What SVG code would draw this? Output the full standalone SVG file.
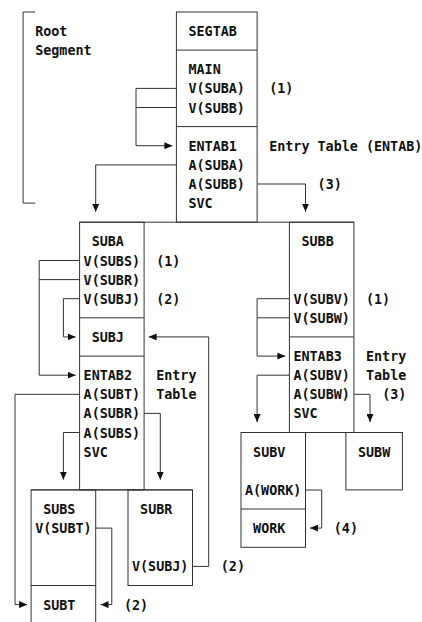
<svg xmlns="http://www.w3.org/2000/svg" width="422" height="622" viewBox="0 0 422 622">
<style>
text{font-family:"DejaVu Sans Mono","Liberation Mono",monospace;font-weight:bold;font-size:13.4px;fill:#111}
.b{fill:none;stroke:#333;stroke-width:1}
.c{fill:none;stroke:#333;stroke-width:1}
</style>
<defs>
<marker id="ah" viewBox="0 0 8 7" markerWidth="8" markerHeight="7" refX="8" refY="3.5" orient="auto" markerUnits="userSpaceOnUse">
<path d="M0,0 L8,3.5 L0,7 z" fill="#111"/>
</marker>
</defs>
<rect width="422" height="622" fill="#fff"/>

<g id="root-segment">
<path class="b" d="M35.2,12 H23.1 V203.1 H35.2"/>
<text x="35.2" y="36">Root</text>
<text x="35.2" y="55.1">Segment</text>
</g>

<g id="segtab">
<rect class="b" x="176.4" y="12" width="80.7" height="210.2"/>
<line class="b" x1="176.4" y1="50.1" x2="257.1" y2="50.1"/>
<line class="b" x1="176.4" y1="126.6" x2="257.1" y2="126.6"/>
<text x="188.5" y="36">SEGTAB</text>
<text x="188.5" y="74.3">MAIN</text>
<text x="188.5" y="93.4">V(SUBA)</text>
<text x="188.5" y="112.5">V(SUBB)</text>
<text x="269.2" y="93.4">(1)</text>
<text x="188.5" y="150.7">ENTAB1</text>
<text x="188.5" y="169.9">A(SUBA)</text>
<text x="188.5" y="189">A(SUBB)</text>
<text x="188.5" y="208.1">SVC</text>
<text x="269.2" y="150.7">Entry Table (ENTAB)</text>
<text x="317.6" y="189">(3)</text>
</g>

<g id="tree-lines">
<line class="b" x1="79.6" y1="222.2" x2="353.9" y2="222.2"/>
<line class="b" x1="241" y1="432.5" x2="402.4" y2="432.5"/>
<line class="b" x1="31.1" y1="489.9" x2="192.5" y2="489.9"/>
</g>

<g id="suba">
<rect class="b" x="79.6" y="222.2" width="64.5" height="267.7"/>
<line class="b" x1="79.6" y1="317.8" x2="144.1" y2="317.8"/>
<line class="b" x1="79.6" y1="356.1" x2="144.1" y2="356.1"/>
<text x="91.7" y="246.3">SUBA</text>
<text x="83.6" y="265.5">V(SUBS)</text>
<text x="83.6" y="284.6">V(SUBR)</text>
<text x="83.6" y="303.7">V(SUBJ)</text>
<text x="156.2" y="265.5">(1)</text>
<text x="156.2" y="303.7">(2)</text>
</g>

<g id="subj">
<text x="91.7" y="341.9">SUBJ</text>
</g>

<g id="entab2">
<text x="83.6" y="380.2">ENTAB2</text>
<text x="83.6" y="399.3">A(SUBT)</text>
<text x="83.6" y="418.4">A(SUBR)</text>
<text x="83.6" y="437.5">A(SUBS)</text>
<text x="83.6" y="456.7">SVC</text>
<text x="156.2" y="380.2">Entry</text>
<text x="156.2" y="399.3">Table</text>
</g>

<g id="subb">
<rect class="b" x="289.4" y="222.2" width="64.5" height="210.3"/>
<line class="b" x1="289.4" y1="336.9" x2="353.9" y2="336.9"/>
<text x="301.5" y="246.3">SUBB</text>
<text x="293.4" y="303.7">V(SUBV)</text>
<text x="293.4" y="322.8">V(SUBW)</text>
<text x="366" y="303.7">(1)</text>
</g>

<g id="entab3">
<text x="293.4" y="361.1">ENTAB3</text>
<text x="293.4" y="380.2">A(SUBV)</text>
<text x="293.4" y="399.3">A(SUBW)</text>
<text x="293.4" y="418.4">SVC</text>
<text x="366" y="361.1">Entry</text>
<text x="366" y="380.2">Table</text>
<text x="382.2" y="399.3">(3)</text>
</g>

<g id="subs">
<rect class="b" x="31.1" y="489.9" width="64.6" height="95.6"/>
<text x="43.2" y="514">SUBS</text>
<text x="35.2" y="533.1">V(SUBT)</text>
</g>

<g id="subt">
<path class="b" d="M31.1,623 V585.5 H95.7 V623"/>
<text x="43.2" y="609.6">SUBT</text>
<text x="124" y="609.6">(2)</text>
</g>

<g id="subr">
<rect class="b" x="128" y="489.9" width="64.5" height="95.6"/>
<text x="140.1" y="514">SUBR</text>
<text x="132" y="571.4">V(SUBJ)</text>
<text x="220.8" y="571.4">(2)</text>
</g>

<g id="subv">
<rect class="b" x="241" y="432.5" width="64.5" height="114.8"/>
<line class="b" x1="241" y1="509" x2="305.5" y2="509"/>
<text x="253.1" y="456.7">SUBV</text>
<text x="245" y="494.9">A(WORK)</text>
</g>

<g id="work">
<text x="253.1" y="533.1">WORK</text>
<text x="333.8" y="533.1">(4)</text>
</g>

<g id="subw">
<rect class="b" x="345.9" y="432.5" width="56.5" height="57.4"/>
<text x="358" y="456.7">SUBW</text>
</g>

<g id="connectors">
<path class="c" d="M176.4,88.4 H136 V145.7 H172.4" marker-end="url(#ah)"/>
<path class="c" d="M176.4,107.5 H136"/>
<path class="c" d="M176.4,164.9 H95.7 V211.7" marker-end="url(#ah)"/>
<path class="c" d="M257.1,184 H305.5 V211.7" marker-end="url(#ah)"/>
<path class="c" d="M79.6,260.5 H39.2 V375.2 H75.6" marker-end="url(#ah)"/>
<path class="c" d="M79.6,279.6 H39.2"/>
<path class="c" d="M79.6,298.7 H63.4 V336.9 H75.6" marker-end="url(#ah)"/>
<path class="c" d="M192.5,566.4 H208.7 V336.9 H148.6" marker-end="url(#ah)"/>
<path class="c" d="M79.6,394.3 H15 V604.6 H27.1" marker-end="url(#ah)"/>
<path class="c" d="M144.1,413.4 H160.3 V479.7" marker-end="url(#ah)"/>
<path class="c" d="M79.6,432.5 H63.4 V479.7" marker-end="url(#ah)"/>
<path class="c" d="M95.7,528.1 H111.8 V604.6 H100.5" marker-end="url(#ah)"/>
<path class="c" d="M289.4,298.7 H257.1 V356.1 H285.4" marker-end="url(#ah)"/>
<path class="c" d="M289.4,317.8 H257.1"/>
<path class="c" d="M289.4,375.2 H257.1 V422" marker-end="url(#ah)"/>
<path class="c" d="M353.9,394.3 H370 V422" marker-end="url(#ah)"/>
<path class="c" d="M305.5,490 H321.7 V528.1 H310" marker-end="url(#ah)"/>
</g>
</svg>
